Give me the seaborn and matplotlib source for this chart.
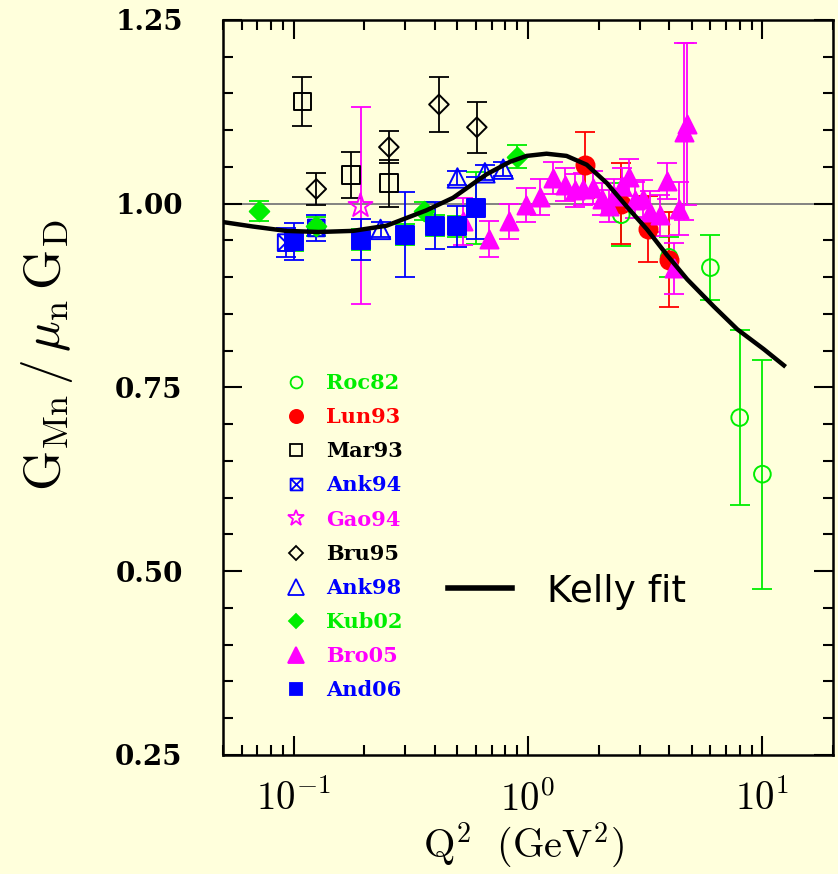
import numpy as np
import matplotlib
matplotlib.use("Agg")
import matplotlib.pyplot as plt
import seaborn as sns
from matplotlib.path import Path
from matplotlib.lines import Line2D
from matplotlib.ticker import (MultipleLocator, LogLocator, NullFormatter,
                               FormatStrFormatter, FuncFormatter)

# ---------------- data ----------------
roc82_q2 = [2.5, 4.0, 6.0, 8.0, 10.0]
roc82_g = [0.985, 0.927, 0.913, 0.709, 0.632]
roc82_e = [0.043, 0.027, 0.044, 0.119, 0.156]

lun93_q2 = [1.75, 2.5, 3.25, 4.0]
lun93_g = [1.053, 1.000, 0.966, 0.924]
lun93_e = [0.045, 0.055, 0.045, 0.065]

mar93_q2 = [0.109, 0.176, 0.255]
mar93_g = [1.139, 1.039, 1.028]
mar93_e = [0.033, 0.031, 0.032]

ank94_q2 = [0.093, 0.125]
ank94_g = [0.947, 0.967]
ank94_e = [0.020, 0.018]

gao94_q2 = [0.193]
gao94_g = [0.997]
gao94_e = [0.134]

bru95_q2 = [0.125, 0.255, 0.417, 0.605]
bru95_g = [1.020, 1.077, 1.135, 1.104]
bru95_e = [0.022, 0.022, 0.037, 0.035]

ank98_q2 = [0.235, 0.50, 0.655, 0.784]
ank98_g = [0.965, 1.035, 1.042, 1.047]
ank98_e = [0.010, 0.010, 0.010, 0.010]

kub02_q2 = [0.071, 0.125, 0.359, 0.894]
kub02_g = [0.990, 0.969, 0.990, 1.064]
kub02_e = [0.013, 0.013, 0.012, 0.016]

bro05_q2 = [0.53, 0.68, 0.83, 0.98, 1.13, 1.28, 1.44, 1.59, 1.72, 1.90, 2.07, 2.21,
            2.32, 2.52, 2.69, 2.87, 3.11, 3.33, 3.67, 3.92, 4.19, 4.40, 4.62, 4.77]
bro05_g = [0.976, 0.952, 0.976, 0.998, 1.009, 1.035, 1.026, 1.018, 1.020, 1.022, 1.006, 0.997,
           1.011, 1.024, 1.036, 1.005, 1.007, 0.989, 0.984, 1.031, 0.912, 0.993, 1.098, 1.108]
bro05_e = [0.032, 0.025, 0.024, 0.023, 0.025, 0.022, 0.022, 0.022, 0.022, 0.022, 0.022, 0.022,
           0.022, 0.025, 0.025, 0.025, 0.025, 0.028, 0.028, 0.025, 0.035, 0.036, 0.120, 0.110]

and06_q2 = [0.100, 0.193, 0.300, 0.400, 0.500, 0.600]
and06_g = [0.949, 0.951, 0.958, 0.970, 0.969, 0.994]
and06_e = [0.025, 0.028, 0.058, 0.032, 0.028, 0.042]
and06_sys = [0.014, 0.014, 0.014, 0.014, 0.014, 0.049]

kelly_q2 = [0.05, 0.0668, 0.093, 0.128, 0.179, 0.249, 0.369, 0.479, 0.60, 0.666, 0.838,
            0.987, 1.20, 1.46, 1.78, 2.17, 2.64, 3.22, 3.92, 4.78, 6.21, 7.82, 10.14, 12.35]
kelly_g = [0.975, 0.969, 0.963, 0.9615, 0.963, 0.970, 0.991, 1.008, 1.030, 1.040, 1.057,
           1.065, 1.068, 1.065, 1.053, 1.028, 0.996, 0.965, 0.930, 0.897, 0.860, 0.829, 0.802, 0.780]

labels = ["Roc82", "Lun93", "Mar93", "Ank94", "Gao94", "Bru95", "Ank98", "Kub02", "Bro05", "And06"]

# ---------------- style ----------------
BG = "#FFFFDC"
GREEN = "#00EE00"
RED = "#FF0000"
BLUE = "#0000FF"
MAG = "#FF00FF"
BLACK = "#000000"

plt.rcParams["mathtext.fontset"] = "cm"

boxx = Path([(-1, -1), (1, -1), (1, 1), (-1, 1), (-1, -1), (-1, -1), (1, 1), (-1, 1), (1, -1)],
            [Path.MOVETO, Path.LINETO, Path.LINETO, Path.LINETO, Path.CLOSEPOLY,
             Path.MOVETO, Path.LINETO, Path.MOVETO, Path.LINETO])

# name, x, y, err, color, marker, plot size (pt), filled, legend size
series = [
    ("Roc82", roc82_q2, roc82_g, roc82_e, GREEN, "o", 12, False, 8.5),
    ("Lun93", lun93_q2, lun93_g, lun93_e, RED, "o", 13, True, 9.5),
    ("Mar93", mar93_q2, mar93_g, mar93_e, BLACK, "s", 12.5, False, 8.5),
    ("Ank94", ank94_q2, ank94_g, ank94_e, BLUE, boxx, 12, False, 8.5),
    ("Gao94", gao94_q2, gao94_g, gao94_e, MAG, "*", 18, False, 12),
    ("Bru95", bru95_q2, bru95_g, bru95_e, BLACK, "D", 10, False, 7),
    ("Ank98", ank98_q2, ank98_g, ank98_e, BLUE, "^", 14, False, 11),
    ("Kub02", kub02_q2, kub02_g, kub02_e, GREEN, "D", 10, True, 7.5),
    ("Bro05", bro05_q2, bro05_g, bro05_e, MAG, "^", 13, True, 12),
    ("And06", and06_q2, and06_g, and06_e, BLUE, "s", 12.5, True, 9),
]

fig = plt.figure(figsize=(8.38, 8.74), dpi=100, facecolor=BG)
ax = fig.add_axes([0.2661, 0.1362, 0.7279, 0.8410])
ax.set_facecolor(BG)
ax.set_xscale("log")
ax.set_xlim(0.05, 20)
ax.set_ylim(0.25, 1.25)

ax.axhline(1.0, color="#7a7a7a", lw=1.3, zorder=1)

# And06 secondary (green) bars
ax.errorbar(and06_q2, and06_g, yerr=and06_sys, fmt="none", ecolor=GREEN,
            elinewidth=1.3, capsize=7, capthick=1.3, zorder=2)

handles = []
for name, xs, ys, es, col, mk, sz, filled, lsz in series:
    ax.errorbar(xs, ys, yerr=es, fmt="none", ecolor=col, elinewidth=1.3,
                capsize=7, capthick=1.3, zorder=2)
    sns.scatterplot(x=xs, y=ys, ax=ax, marker=mk, s=sz ** 2, color=col,
                    edgecolor=col, facecolor=(col if filled else "none"),
                    linewidth=1.4, zorder=3, legend=False)
    handles.append(Line2D([], [], linestyle="none", marker=mk, markersize=lsz,
                          markerfacecolor=(col if filled else "none"),
                          markeredgecolor=col, markeredgewidth=1.3))

sns.lineplot(x=kelly_q2, y=kelly_g, ax=ax, color=BLACK, lw=3.2, sort=False,
             estimator=None, zorder=4, legend=False)

# legends
colors = [s[4] for s in series]
leg1 = ax.legend(handles, labels, loc="upper left", bbox_to_anchor=(0.089, 0.531),
                 frameon=False, prop={"family": "DejaVu Serif", "weight": "bold", "size": 15},
                 labelcolor=colors, handlelength=0.95, handletextpad=1.0,
                 labelspacing=0.68, borderpad=0.4, borderaxespad=0)
ax.add_artist(leg1)
kh = Line2D([], [], color=BLACK, lw=4)
ax.legend([kh], ["Kelly fit"], loc="upper left", bbox_to_anchor=(0.357, 0.257),
          frameon=False, prop={"family": "DejaVu Sans", "size": 27},
          handlelength=1.7, handletextpad=0.93, borderpad=0.2, borderaxespad=0)

# axes, ticks
ax.yaxis.set_major_locator(MultipleLocator(0.25))
ax.yaxis.set_minor_locator(MultipleLocator(0.05))
ax.yaxis.set_major_formatter(FormatStrFormatter("%.2f"))
ax.xaxis.set_major_locator(LogLocator(base=10))
ax.xaxis.set_minor_locator(LogLocator(base=10, subs=np.arange(2, 10)))
ax.xaxis.set_major_formatter(FuncFormatter(
    lambda v, pos: r"$\mathrm{10^{%d}}$" % int(round(np.log10(v)))))
ax.xaxis.set_minor_formatter(NullFormatter())

ax.tick_params(which="both", direction="in", top=True, right=True, width=1.5, color=BLACK)
ax.tick_params(which="major", length=14)
ax.tick_params(which="minor", length=7)
ax.tick_params(axis="y", pad=29, labelsize=20)
ax.tick_params(axis="x", pad=18, labelsize=28)
for lab in ax.get_yticklabels():
    lab.set_fontfamily("DejaVu Serif")
    lab.set_fontweight("bold")
for sp in ax.spines.values():
    sp.set_linewidth(1.8)
    sp.set_color(BLACK)

ax.set_ylabel(r"$\mathrm{G_{Mn}\,/\,\mu_n\,G_D}$", fontsize=37)
ax.yaxis.set_label_coords(-0.243, 0.544)
ax.set_xlabel(r"$\mathrm{Q^2\ \ (GeV^2)}$", fontsize=29)
ax.xaxis.set_label_coords(0.492, -0.158)
ax.xaxis.label.set_verticalalignment("bottom")

fig.savefig("out.png", dpi=100, facecolor=BG)
